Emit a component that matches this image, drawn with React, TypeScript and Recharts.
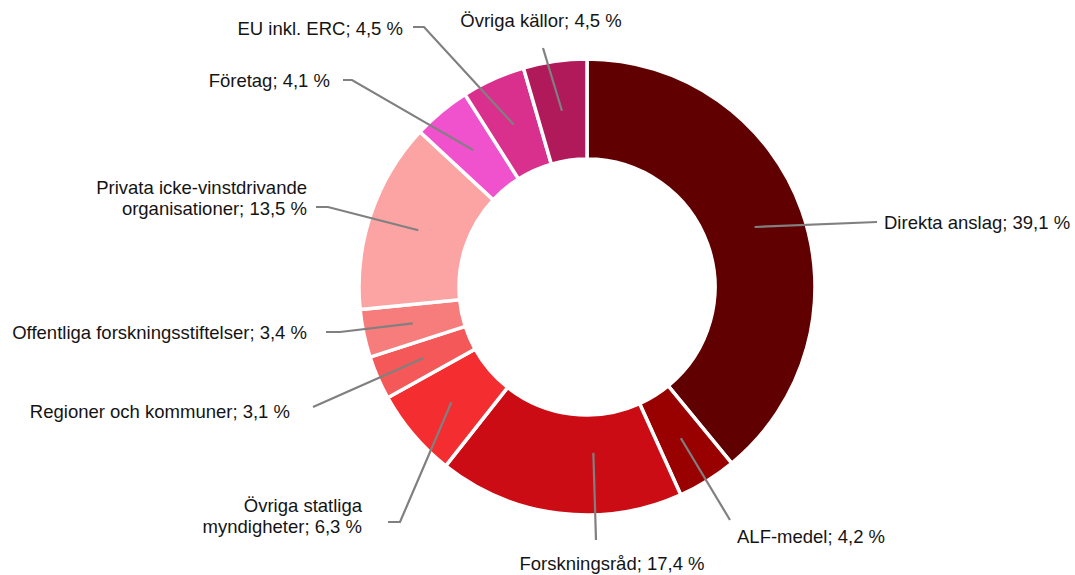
import React from 'react';
import { PieChart, Pie, Cell } from 'recharts';

const sources = [
  'Direkta anslag',
  'ALF-medel',
  'Forskningsråd',
  'Övriga statliga\nmyndigheter',
  'Regioner och kommuner',
  'Offentliga forskningsstiftelser',
  'Privata icke-vinstdrivande\norganisationer',
  'Företag',
  'EU inkl. ERC',
  'Övriga källor',
];
const shares = [39.1, 4.2, 17.4, 6.3, 3.1, 3.4, 13.5, 4.1, 4.5, 4.5];
const colors = [
  '#600000', '#990000', '#cc0c14', '#f32d30', '#f55858',
  '#f77c7c', '#fca3a3', '#ef52cc', '#d9308e', '#b0195a',
];

// leader line end (relative to centre), elbow x, text position/anchor,
// optional tweak of the line start (angle / radius)
const labelLayout = [
  { ex: 290, ey: -65, elbow: 0, tx: 297, ty: -65, anchor: 'start' },
  { ex: 143, ey: 233, elbow: 0, tx: 150, ty: 249, anchor: 'start' },
  { ex: 9, ey: 253, elbow: 0, tx: 25, ty: 276, anchor: 'middle', da: 9.2, dr: -12 },
  { ex: -187, ey: 235, elbow: -12, tx: -225, ty: 228, anchor: 'end' },
  { ex: -274, ey: 120, elbow: 0, tx: -297, ty: 124, anchor: 'end' },
  { ex: -247, ey: 45, elbow: -14, tx: -280, ty: 45, anchor: 'end' },
  { ex: -259, ey: -80, elbow: -12, tx: -280, ty: -90, anchor: 'end' },
  { ex: -235, ey: -207, elbow: -9, tx: -257, ty: -207, anchor: 'end' },
  { ex: -163, ey: -260, elbow: -11, tx: -184, ty: -259, anchor: 'end' },
  { ex: -44, ey: -239, elbow: 0, tx: -46, ty: -267, anchor: 'middle' },
];

const data = sources.map((name, i) => ({ name, value: shares[i] }));

const RAD = Math.PI / 180;

function renderLabel(props: any) {
  const { cx, cy, midAngle, innerRadius, outerRadius, index } = props;
  const l: any = labelLayout[index];
  const r = (innerRadius + outerRadius) / 2 + (l.dr || 0);
  const a = midAngle + (l.da || 0);
  const sx = cx + r * Math.cos(-a * RAD);
  const sy = cy + r * Math.sin(-a * RAD);
  const ex = cx + l.ex;
  const ey = cy + l.ey;
  const pts = `${sx},${sy} ${ex},${ey} ${ex + l.elbow},${ey}`;
  const lines = `${sources[index]}; ${shares[index].toFixed(1).replace('.', ',')} %`.split('\n');
  const lh = 21;
  const y0 = cy + l.ty - ((lines.length - 1) * lh) / 2;
  return (
    <g key={`lbl-${index}`}>
      <polyline points={pts} fill="none" stroke="#808080" strokeWidth={2.2} />
      <text
        x={cx + l.tx}
        y={y0}
        textAnchor={l.anchor}
        dominantBaseline="central"
        fill="#141414"
        fontSize={18.5}
        fontFamily="'Liberation Sans', Arial, sans-serif"
      >
        {lines.map((s, k) => (
          <tspan key={k} x={cx + l.tx} y={y0 + k * lh}>
            {s}
          </tspan>
        ))}
      </text>
    </g>
  );
}

export default function App() {
  return (
    <div style={{ position: 'absolute', left: 0, top: 0, background: '#fff' }}>
      <PieChart width={1075} height={575} margin={{ top: 0, right: 0, bottom: 0, left: 0 }}>
        <Pie
          data={data}
          dataKey="value"
          nameKey="name"
          cx={587}
          cy={287}
          innerRadius={128}
          outerRadius={228}
          startAngle={90}
          endAngle={-270}
          stroke="#ffffff"
          strokeWidth={3.5}
          label={renderLabel}
          labelLine={false}
          isAnimationActive={false}
        >
          {data.map((d, i) => (
            <Cell key={d.name} fill={colors[i]} />
          ))}
        </Pie>
      </PieChart>
    </div>
  );
}
